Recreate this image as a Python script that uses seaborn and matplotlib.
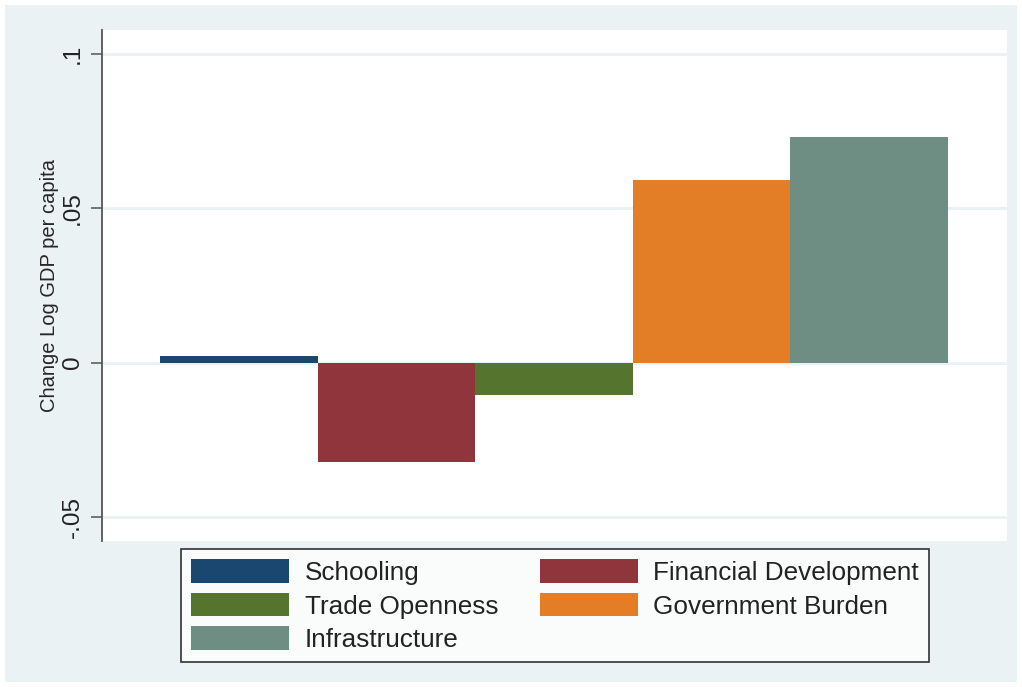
import matplotlib
matplotlib.use("Agg")
import matplotlib.pyplot as plt
import matplotlib.patches as mpatches
import seaborn as sns
import pandas as pd

categories = ["Schooling", "Financial Development", "Trade Openness",
              "Government Burden", "Infrastructure"]
values = [0.0022, -0.0322, -0.0104, 0.0593, 0.0731]
colors = ["#1A476F", "#90353B", "#55752F", "#E37E26", "#6E8E84"]
yticks = [-0.05, 0, 0.05, 0.1]
yticklabels = ["-.05", "0", ".05", ".1"]

sns.set_theme(style="white")
plt.rcParams['font.family'] = ['Liberation Sans', 'DejaVu Sans']

BG = "#EAF2F3"
fig = plt.figure(figsize=(10.22, 6.87), dpi=100, facecolor="white")
fig.patches.append(mpatches.Rectangle((5/1022, 5/687), 1 - 10/1022, 1 - 10/687,
                                      transform=fig.transFigure, facecolor=BG,
                                      edgecolor="none", zorder=-10))
ax = fig.add_axes([102/1022, 1 - 541/687, (1007-102)/1022, (541-30)/687])
ax.set_facecolor("white")

df = pd.DataFrame({"cat": categories, "val": values})
sns.barplot(data=df, x="cat", y="val", hue="cat", palette=colors,
            width=1.0, dodge=False, legend=False, ax=ax, saturation=1,
            linewidth=0, order=categories, hue_order=categories)

ax.set_xlim(-0.868, 4.874)
ax.set_ylim(-0.0578, 0.1078)
ax.set_yticks(yticks)
ax.set_yticklabels(yticklabels, rotation=90, va="center", fontsize=17.5)
ax.set_xticks([])
ax.set_xlabel("")
ax.set_ylabel("Change Log GDP per capita", fontsize=14.5, labelpad=2)
for y in yticks:
    ax.axhline(y, color=BG, lw=2.2, zorder=0)
ax.set_axisbelow(True)
for s in ["top", "right", "bottom"]:
    ax.spines[s].set_visible(False)
ax.spines["left"].set_color("#555555")
ax.spines["left"].set_linewidth(1.3)
ax.tick_params(axis="y", left=True, length=8, width=1.1, color="#555555",
               pad=5, labelcolor="#222222")

order = [0, 2, 4, 1, 3]
handles = [mpatches.Patch(facecolor=colors[i], edgecolor="none") for i in order]
labels = [categories[i] for i in order]
leg = fig.legend(handles, labels, loc="upper center",
                 bbox_to_anchor=(555/1022, 1 - 549/687), ncol=2,
                 fontsize=18.8, frameon=True, fancybox=False,
                 handlelength=3.75, handleheight=1.0, handletextpad=0.6,
                 columnspacing=1.6, labelspacing=0.3, borderpad=0.4,
                 borderaxespad=0)
leg.get_frame().set_edgecolor("black")
leg.get_frame().set_linewidth(1.2)
leg.get_frame().set_facecolor("white")
for t in leg.get_texts():
    t.set_color("#222222")

fig.savefig("out.png", dpi=100, facecolor=fig.get_facecolor())
